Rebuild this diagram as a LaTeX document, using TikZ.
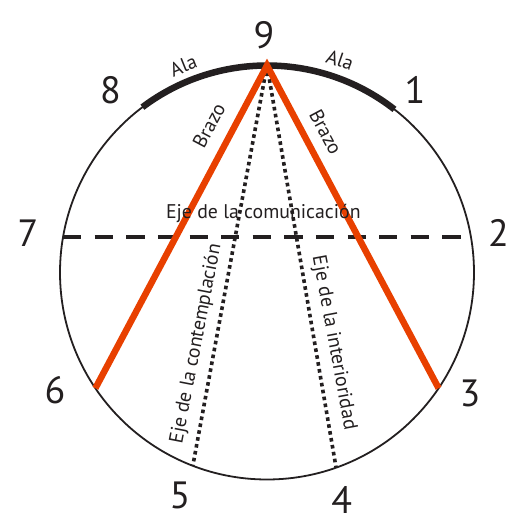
\documentclass[tikz,border=0pt]{standalone}
\usepackage{fontspec}
\setmainfont{PT Sans}
\usetikzlibrary{calc}
\definecolor{ink}{RGB}{35,31,32}
\definecolor{brazo}{RGB}{232,64,0}
\begin{document}
\begin{tikzpicture}[x=1pt,y=1pt,
  circ/.style={draw=ink, line width=1.8pt},
  ala/.style={draw=ink, line width=6.5pt},
  arm/.style={draw=brazo, line width=6.5pt, line join=miter, miter limit=10},
  axisdash/.style={draw=ink, line width=4pt, dash pattern=on 18.3pt off 13.3pt},
  axisdot/.style={draw=ink, line width=3.6pt, dash pattern=on 3.6pt off 3.4pt},
  num/.style={font=\fontsize{38}{38}\selectfont, text=ink, inner sep=0pt},
  lbl/.style={font=\fontsize{19.8}{19.8}\selectfont, text=ink, inner sep=0pt},
]
\useasboundingbox (0,0) rectangle (531,531);
\fill[white] (0,0) rectangle (531,531);
\coordinate (C) at (267,258.5);
\def\R{207}
\coordinate (p9) at ($(C)+(90:\R)$);
\coordinate (p1) at ($(C)+(52:\R)$);
\coordinate (p8) at ($(C)+(127:\R)$);
\coordinate (p2) at ($(C)+(10:\R)$);
\coordinate (p7) at ($(C)+(170:\R)$);
\coordinate (p3) at ($(C)+(-34:\R)$);
\coordinate (p6) at ($(C)+(-146:\R)$);
\coordinate (p4) at ($(C)+(-70.5:\R)$);
\coordinate (p5) at ($(C)+(-111:\R)$);
% circle and wings
\draw[circ] (C) circle (\R);
\draw[ala] (p1) arc (52:127:\R);
% axes
\draw[axisdash] (p7) -- (p2);
\draw[axisdot] (p9) -- (p5);
\draw[axisdot] (p9) -- (p4);
% arms
\draw[arm] (p6) -- (p9) -- (p3);
% numbers
\node[num] (n9) at (264,495.4) {9};
\node[num] (n8) at (110.5,440.5) {8};
\node[num] (n1) at (415,441.5) {1};
\node[num] (n7) at (28,297.5) {7};
\node[num] (n2) at (498.5,298) {2};
\node[num] (n6) at (55,141) {6};
\node[num] (n3) at (470,138) {3};
\node[num] (n5) at (180,36) {5};
\node[num] (n4) at (341.7,31) {4};
% labels
\node[lbl, rotate=22] (alaL) at (183.3,465.3) {Ala};
\node[lbl, rotate=-19] (alaR) at (340,471) {Ala};
\node[lbl, rotate=62] (brL) at (209,405.7) {Brazo};
\node[lbl, rotate=-62] (brR) at (325.8,399) {Brazo};
\node[lbl] (ejeCom) at (263.3,317.7) {Eje de la comunicación};
\node[lbl, rotate=79] (ejeCon) at (196.4,187.3) {Eje de la contemplación};
\node[lbl, rotate=-79.5] (ejeInt) at (333.6,188.2) {Eje de la interioridad};
\end{tikzpicture}
\end{document}
